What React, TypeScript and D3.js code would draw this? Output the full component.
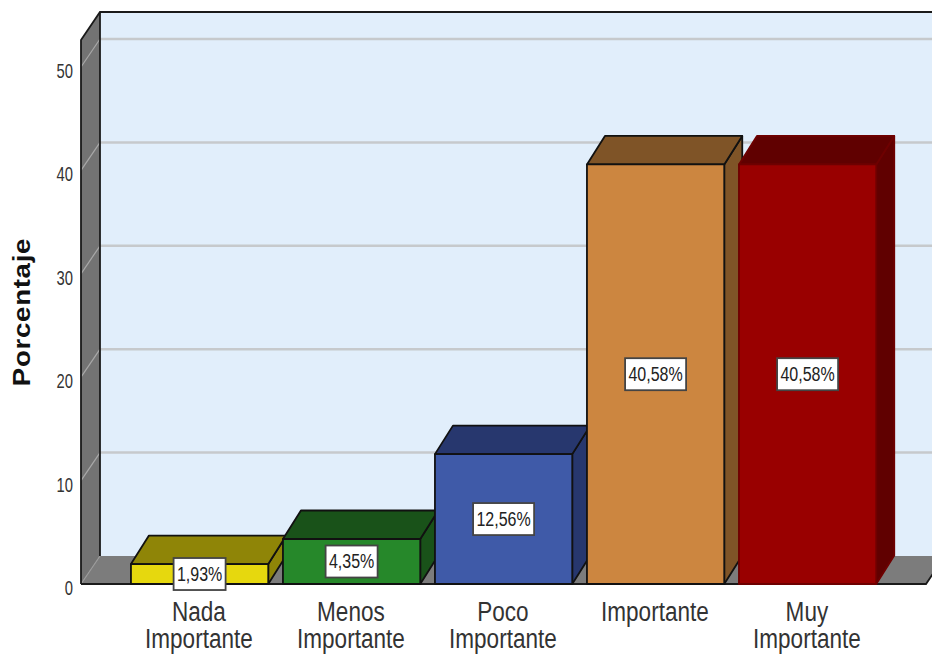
import React from "react";
import * as d3 from "d3";

const categories = [
  ["Nada", "Importante"],
  ["Menos", "Importante"],
  ["Poco", "Importante"],
  ["Importante"],
  ["Muy", "Importante"],
];
const percentages = [1.93, 4.35, 12.56, 40.58, 40.58];
const valueLabels = ["1,93%", "4,35%", "12,56%", "40,58%", "40,58%"];
const yTicks = [0, 10, 20, 30, 40, 50];
const frontFill = ["#e6d80e", "#26882a", "#3f5aa8", "#cc8640", "#990000"];
const sideFill = ["#8f8507", "#195219", "#27376e", "#7f5427", "#600000"];
const edgeStroke = ["#111", "#111", "#111", "#111", "#6e0000"];

const W = 932;
const H = 654;
const DX = 19;
const DY = -28;
const BAR_DX = 18;
const BAR_DY = -28.5;
const FRONT_LEFT = 81;
const FLOOR_RIGHT = 926;
const BASE = 584;

const y = d3.scaleLinear().domain([0, 50]).range([BASE, 67]);
const x = d3
  .scaleBand<number>()
  .domain(d3.range(categories.length))
  .range([123.6, 883.6])
  .paddingInner(14.7 / 152)
  .paddingOuter(7.35 / 152);
const topValue = 52.61;
const poly = d3.line();
const cond = (cx: number, sx: number) => `translate(${cx} 0) scale(${sx} 1)`;

export default function App() {
  return (
    <svg
      width={W}
      height={H}
      viewBox={`0 0 ${W} ${H}`}
      style={{ position: "absolute", left: 0, top: 0, background: "#fff", fontFamily: "'Liberation Sans', Arial, sans-serif" }}
    >
      {/* back wall */}
      <rect x={FRONT_LEFT + DX} y={y(topValue) + DY} width={W} height={BASE - y(topValue)} fill="#e1eefb" />
      {/* left wall */}
      <path
        d={poly([
          [FRONT_LEFT, y(topValue)],
          [FRONT_LEFT + DX, y(topValue) + DY],
          [FRONT_LEFT + DX, BASE + DY],
          [FRONT_LEFT, BASE],
        ]) + "Z"}
        fill="#737373"
      />
      {/* floor */}
      <path
        d={poly([
          [FRONT_LEFT, BASE],
          [FRONT_LEFT + DX, BASE + DY],
          [FLOOR_RIGHT + DX, BASE + DY],
          [FLOOR_RIGHT, BASE],
        ]) + "Z"}
        fill="#7c7c7c"
      />
      {/* gridlines along the wall */}
      {yTicks.filter((t) => t > 0).map((t) => (
        <g key={t}>
          <line x1={FRONT_LEFT + DX} x2={W} y1={y(t) + DY} y2={y(t) + DY} stroke="#c6c9cc" strokeWidth={2.5} />
          <line x1={FRONT_LEFT} x2={FRONT_LEFT + DX} y1={y(t)} y2={y(t) + DY} stroke="#a8a8a8" strokeWidth={1.2} />
        </g>
      ))}
      <line x1={FRONT_LEFT} x2={FRONT_LEFT + DX} y1={BASE} y2={BASE + DY} stroke="#9a9a9a" strokeWidth={1.2} />
      {/* frame */}
      <g fill="none" stroke="#1a1a1a" strokeWidth={1.8}>
        <path d={poly([[FRONT_LEFT, BASE], [FRONT_LEFT, y(topValue)], [FRONT_LEFT + DX, y(topValue) + DY], [W, y(topValue) + DY]])!} />
        <line x1={FRONT_LEFT + DX} x2={FRONT_LEFT + DX} y1={y(topValue) + DY} y2={BASE + DY} />
        <path d={poly([[FRONT_LEFT, BASE], [FLOOR_RIGHT, BASE], [FLOOR_RIGHT + DX, BASE + DY]])!} />
      </g>
      {/* bars, left to right so each overlaps the previous side face */}
      {percentages.map((v, i) => {
        const x0 = x(i)!;
        const x1 = x0 + x.bandwidth();
        const yt = y(v);
        const top = poly([[x0, yt], [x0 + BAR_DX, yt + BAR_DY], [x1 + BAR_DX, yt + BAR_DY], [x1, yt]]) + "Z";
        const side = poly([[x1, yt], [x1 + BAR_DX, yt + BAR_DY], [x1 + BAR_DX, BASE + BAR_DY], [x1, BASE]]) + "Z";
        return (
          <g key={i} stroke={edgeStroke[i]} strokeWidth={1.8} strokeLinejoin="round">
            <path d={side} fill={sideFill[i]} />
            <path d={top} fill={sideFill[i]} />
            <rect x={x0} y={yt} width={x1 - x0} height={BASE - yt} fill={frontFill[i]} />
          </g>
        );
      })}
      {/* value labels, centred on each bar's front face; the box grows with the text */}
      {percentages.map((v, i) => {
        const cx = x(i)! + x.bandwidth() / 2;
        const cy = (y(v) + BASE) / 2;
        const boxW = valueLabels[i].length > 5 ? 61 : 52;
        return (
          <g key={i}>
            <rect x={cx - boxW / 2} y={cy - 16} width={boxW} height={32} fill="#fff" stroke="#444" strokeWidth={1.8} />
            <text transform={cond(cx, 0.8)} y={cy + 7} textAnchor="middle" fontSize={20} fill="#222">
              {valueLabels[i]}
            </text>
          </g>
        );
      })}
      {/* y axis tick labels */}
      {yTicks.map((t) => (
        <text key={t} transform={cond(73, 0.74)} y={y(t) + 11} textAnchor="end" fontSize={20} fill="#333">
          {t}
        </text>
      ))}
      {/* category labels */}
      {categories.map((lines, i) => {
        const cx = x(i)! + x.bandwidth() / 2 - 0.7;
        return (
          <g key={i} transform={cond(cx, 0.805)} fontSize={28} fill="#333" textAnchor="middle">
            {lines.map((s, j) => (
              <text key={j} y={621 + j * 27}>
                {s}
              </text>
            ))}
          </g>
        );
      })}
      {/* axis title */}
      <text
        transform="translate(30 312) rotate(-90) scale(1.2 1)"
        textAnchor="middle"
        fontSize={23}
        fontWeight="bold"
        letterSpacing={0.6}
        fill="#111"
      >
        Porcentaje
      </text>
    </svg>
  );
}
